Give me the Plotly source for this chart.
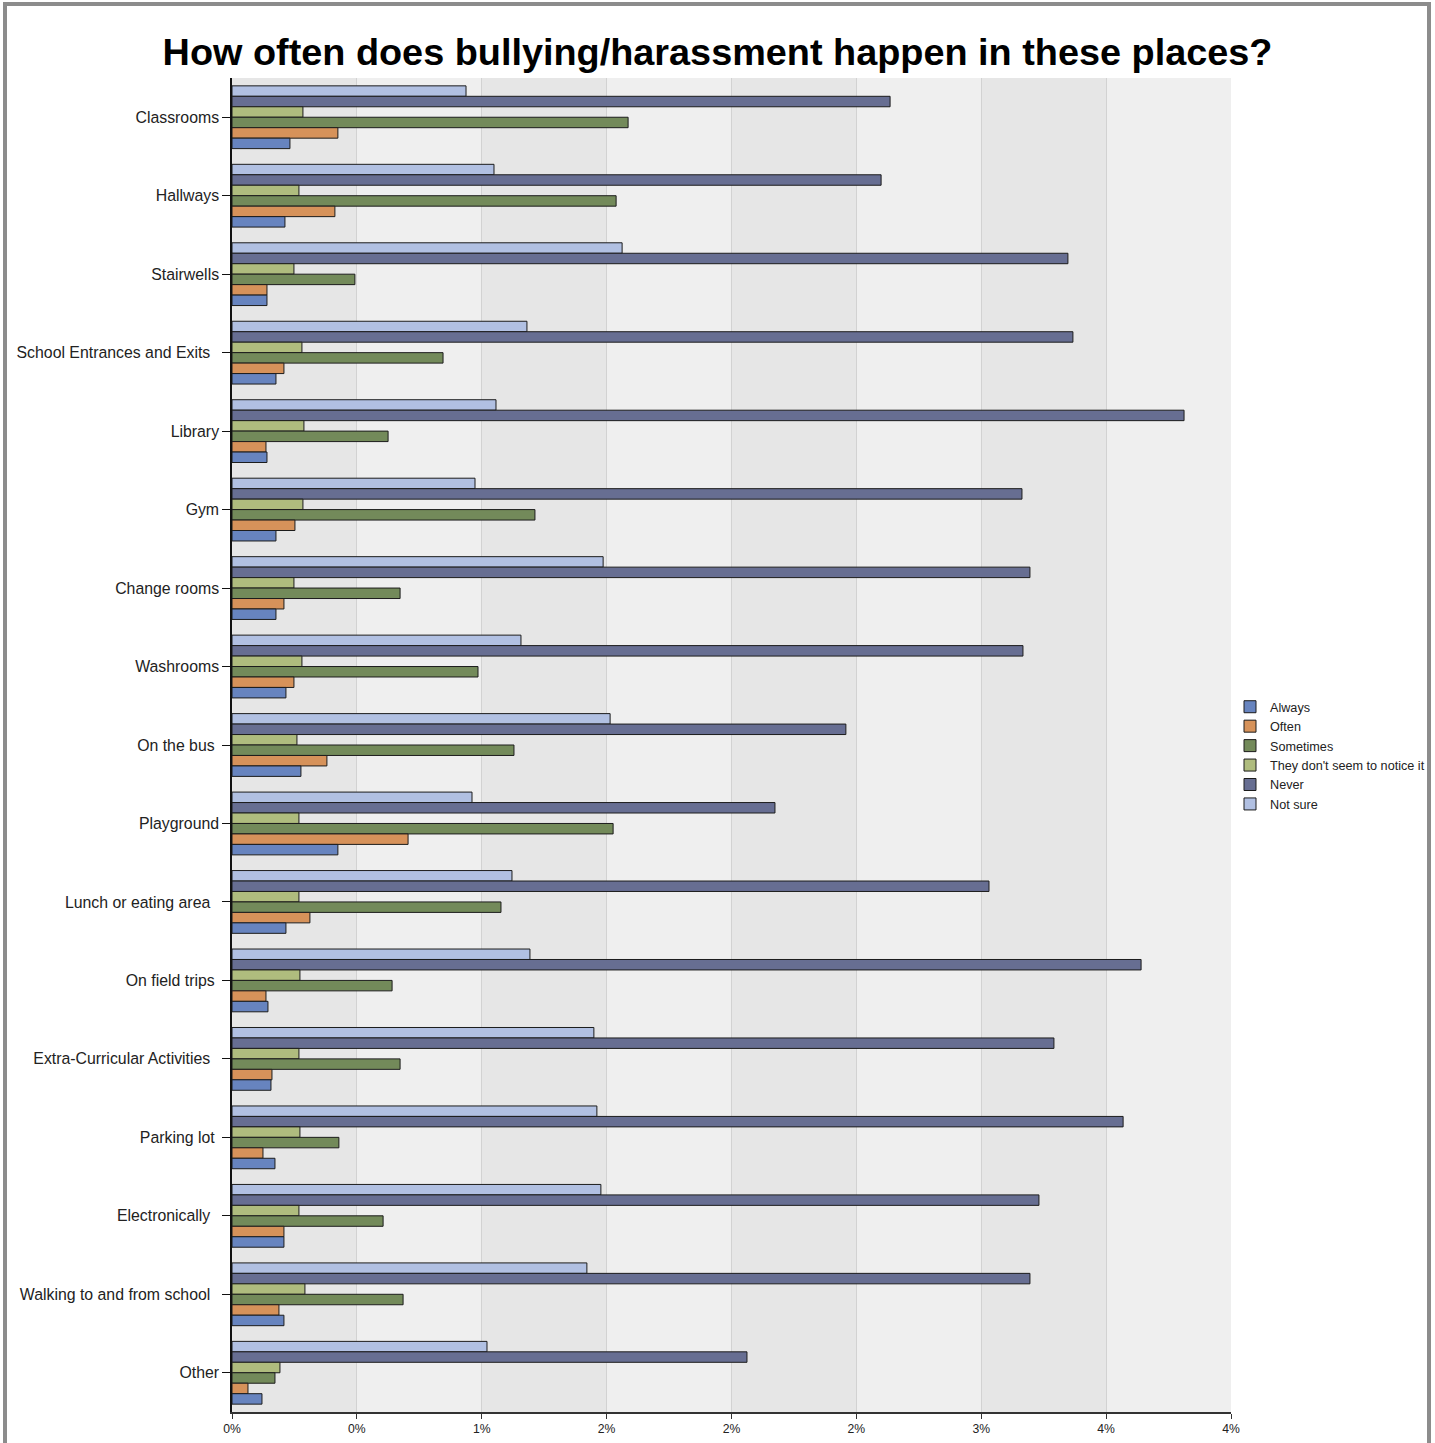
import plotly.graph_objects as go

categories = [
    "Classrooms", "Hallways", "Stairwells", "School Entrances and Exits\u00a0\u00a0",
    "Library", "Gym", "Change rooms", "Washrooms", "On the bus\u00a0", "Playground",
    "Lunch or eating area\u00a0\u00a0", "On field trips\u00a0", "Extra-Curricular Activities\u00a0\u00a0",
    "Parking lot\u00a0", "Electronically\u00a0\u00a0", "Walking to and from school\u00a0\u00a0", "Other",
]

always =    [0.232, 0.212, 0.140, 0.176, 0.140, 0.176, 0.176, 0.216, 0.276, 0.424, 0.216, 0.144, 0.156, 0.172, 0.208, 0.208, 0.120]
often =     [0.424, 0.412, 0.140, 0.208, 0.136, 0.252, 0.208, 0.248, 0.380, 0.705, 0.312, 0.136, 0.160, 0.124, 0.208, 0.188, 0.064]
sometimes = [1.586, 1.538, 0.492, 0.845, 0.625, 1.213, 0.673, 0.985, 1.129, 1.526, 1.077, 0.641, 0.673, 0.428, 0.605, 0.685, 0.172]
notice =    [0.284, 0.268, 0.248, 0.280, 0.288, 0.284, 0.248, 0.280, 0.260, 0.268, 0.268, 0.272, 0.268, 0.272, 0.268, 0.292, 0.192]
never =     [2.635, 2.599, 3.347, 3.367, 3.812, 3.163, 3.195, 3.167, 2.458, 2.174, 3.031, 3.640, 3.291, 3.568, 3.231, 3.195, 2.062]
not_sure =  [0.937, 1.049, 1.562, 1.181, 1.057, 0.973, 1.486, 1.157, 1.514, 0.961, 1.121, 1.193, 1.449, 1.461, 1.477, 1.421, 1.021]

tick_vals = [0, 0.5, 1, 1.5, 2, 2.5, 3, 3.5, 4]
tick_text = ["0%", "0%", "1%", "2%", "2%", "2%", "3%", "4%", "4%"]

series = [
    ("Not sure", not_sure, "#b1c0e2"),
    ("Never", never, "#676e92"),
    ("They don't seem to notice it", notice, "#afbc7e"),
    ("Sometimes", sometimes, "#738a5a"),
    ("Often", often, "#d6925a"),
    ("Always", always, "#6784bf"),
]

W, H = 1435, 1443
L, R, T, B = 232, 204, 78, 31
pw, ph = W - L - R, H - T - B

def px_x(p):
    return (p - L) / pw

def px_y(p):
    return (H - B - p) / ph

fig = go.Figure()
for name, vals, col in series:
    fig.add_trace(go.Bar(
        y=categories, x=vals, name=name, orientation="h",
        marker=dict(color=col, line=dict(color="#1c1c1c", width=1)),
    ))

shapes = []
for i in range(0, 8, 2):
    shapes.append(dict(type="rect", xref="x", yref="paper", x0=tick_vals[i], x1=tick_vals[i + 1],
                       y0=0, y1=1, fillcolor="#e6e6e6", line=dict(width=0), layer="below"))
frame = dict(color="#8c8c8c", width=4)
shapes.append(dict(type="line", xref="paper", yref="paper", x0=px_x(5), x1=px_x(5),
                   y0=px_y(H), y1=px_y(2), line=frame, layer="above"))
shapes.append(dict(type="line", xref="paper", yref="paper", x0=px_x(3), x1=px_x(1431),
                   y0=px_y(4), y1=px_y(4), line=frame, layer="above"))
shapes.append(dict(type="line", xref="paper", yref="paper", x0=px_x(1429), x1=px_x(1429),
                   y0=px_y(H), y1=px_y(2), line=frame, layer="above"))

fig.update_layout(
    width=W, height=H,
    margin=dict(l=L, r=R, t=T, b=B, autoexpand=False),
    paper_bgcolor="white", plot_bgcolor="#efefef",
    barmode="group", bargap=0.2, bargroupgap=0,
    font=dict(family="Liberation Sans, Arial, sans-serif", color="#222"),
    title=dict(text="<b>How often does bullying/harassment happen in these places?</b>",
               x=0.5, xref="container", xanchor="center", y=1 - 52 / H, yanchor="middle",
               font=dict(size=37.85, color="black", family="Liberation Sans, Arial, sans-serif")),
    shapes=shapes,
    legend=dict(x=px_x(1230), xanchor="left", y=px_y(755.5), yanchor="middle",
                traceorder="reversed", font=dict(size=12.65, color="#222"),
                bgcolor="rgba(0,0,0,0)", itemwidth=30, tracegroupgap=0),
    showlegend=True,
)
fig.update_xaxes(range=[0, 4], tickvals=tick_vals, ticktext=tick_text,
                 showgrid=True, gridcolor="#d2d2d2", gridwidth=1,
                 showline=True, linecolor="#333", linewidth=1.5,
                 ticks="outside", ticklen=5, tickcolor="#333",
                 tickfont=dict(size=12.2, color="#222"), zeroline=False, fixedrange=True)
fig.update_yaxes(autorange="reversed", showgrid=False,
                 showline=True, linecolor="#111", linewidth=1.5,
                 ticks="outside", ticklen=8, tickcolor="#111",
                 tickfont=dict(size=15.85, color="#222"), fixedrange=True)

post = ("var b=document.body,h=document.documentElement;"
        "h.style.margin='0';h.style.padding='0';h.style.overflow='hidden';"
        "b.style.margin='0';b.style.padding='0';b.style.overflow='hidden';"
        "b.style.fontSize='0';b.style.lineHeight='0';")
fig.write_html("out.html", post_script=post, config={"displayModeBar": False})
